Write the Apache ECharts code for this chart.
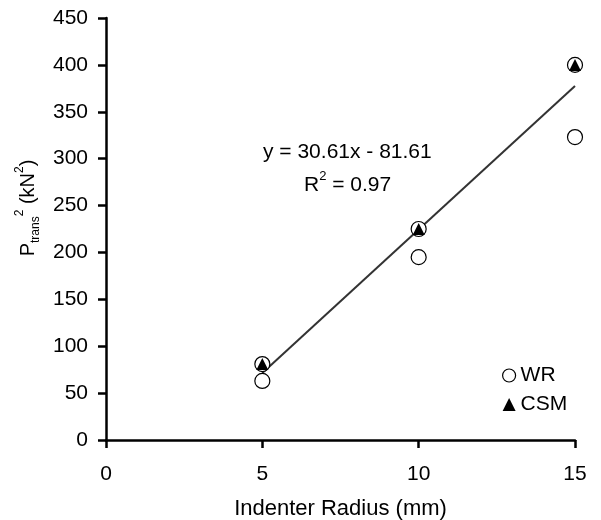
<!DOCTYPE html>
<html><head><meta charset="utf-8">
<script src="https://cdn.jsdelivr.net/npm/echarts@6/dist/echarts.min.js"></script>
<style>html,body{margin:0;padding:0;background:#fff}#c{width:601px;height:520px}</style>
</head><body><div id="c"></div>
<script>
var radius = [5, 10, 15];
var wrValues = [63, 195, 323];
var csmValues = [81, 225, 400];
var trendSlope = 30.61;
var trendIntercept = -81.61;
var xTicks = [0, 5, 10, 15];
var yTicks = [0, 50, 100, 150, 200, 250, 300, 350, 400, 450];

var F = 'Liberation Sans, Arial, sans-serif';
var FS = 21;
var chart = echarts.init(document.getElementById('c'));
var trend = [radius[0], radius[radius.length-1]].map(function(x){ return [x, trendSlope*x + trendIntercept]; });
chart.setOption({
  animation: false,
  backgroundColor: '#fff',
  grid: {left: 106, right: 26, top: 18, bottom: 80, containLabel: false, outerBoundsMode: 'none'},
  xAxis: {
    type: 'value', min: xTicks[0], max: xTicks[xTicks.length-1], interval: xTicks[1]-xTicks[0],
    name: 'Indenter Radius (mm)', nameLocation: 'middle', nameGap: 58,
    nameTextStyle: {fontFamily: F, fontSize: 22, color: '#000'},
    axisLine: {lineStyle: {color: '#000', width: 2.5}},
    axisTick: {show: true, length: 8, lineStyle: {color: '#000', width: 2.5}},
    axisLabel: {fontFamily: F, fontSize: FS, color: '#000', margin: 24},
    splitLine: {show: false}
  },
  yAxis: {
    type: 'value', min: yTicks[0], max: yTicks[yTicks.length-1], interval: yTicks[1]-yTicks[0],
    axisLine: {show: true, lineStyle: {color: '#000', width: 2.5}},
    axisTick: {show: true, length: 8, lineStyle: {color: '#000', width: 2.5}},
    axisLabel: {fontFamily: F, fontSize: FS, color: '#000', margin: 18},
    splitLine: {show: false}
  },
  legend: {
    orient: 'vertical', left: 502, top: 365, padding: 0, itemGap: 8, itemWidth: 13, itemHeight: 13,
    textStyle: {fontFamily: F, fontSize: FS, color: '#000', lineHeight: 20},
    data: [
      {name: 'WR', icon: 'circle', itemStyle: {color: '#fff', borderColor: '#000', borderWidth: 1.2}},
      {name: 'CSM', icon: 'triangle', itemStyle: {color: '#000'}}
    ]
  },
  series: [
    {type: 'line', data: trend, symbol: 'none', silent: true,
     lineStyle: {color: '#333', width: 2}, z: 1},
    {name: 'WR', type: 'scatter', symbol: 'circle', symbolSize: 15,
     itemStyle: {color: '#fff', borderColor: '#000', borderWidth: 1.2, opacity: 1},
     data: radius.map(function(x,i){ return [x, wrValues[i]]; }), z: 2},
    {name: 'WR', type: 'scatter', symbol: 'circle', symbolSize: 15,
     itemStyle: {color: '#fff', borderColor: '#000', borderWidth: 1.2, opacity: 1},
     data: radius.map(function(x,i){ return [x, csmValues[i]]; }), z: 3},
    {name: 'CSM', type: 'scatter', symbol: 'triangle', symbolSize: 12,
     itemStyle: {color: '#000', opacity: 1},
     data: radius.map(function(x,i){ return [x, csmValues[i]]; }), z: 4}
  ],
  graphic: [
    {type: 'text', left: 263, top: 142, style: {text: 'y = 30.61x - 81.61', font: FS + 'px ' + F, fill: '#000'}},
    {type: 'text', left: 304, top: 170, style: {
      text: '{p|R}{sup|2}{p| = 0.97}',
      rich: {p: {fontFamily: F, fontSize: FS, fill: '#000', lineHeight: 26, verticalAlign: 'bottom'},
             sup: {fontFamily: F, fontSize: 13, fill: '#000', lineHeight: 26, verticalAlign: 'top'}}}},
    {type: 'text', x: 28, y: 208, rotation: Math.PI/2, style: {
      text: '{p|P}{sub|trans}{sup|2}{p| (kN}{sup|2}{p|)}',
      align: 'center', verticalAlign: 'middle',
      rich: {p: {fontFamily: F, fontSize: 20, fill: '#000', lineHeight: 28, verticalAlign: 'middle'},
             sub: {fontFamily: F, fontSize: 12, fill: '#000', lineHeight: 28, verticalAlign: 'bottom'},
             sup: {fontFamily: F, fontSize: 12, fill: '#000', lineHeight: 28, verticalAlign: 'top'}}}}
  ]
});
</script></body></html>
